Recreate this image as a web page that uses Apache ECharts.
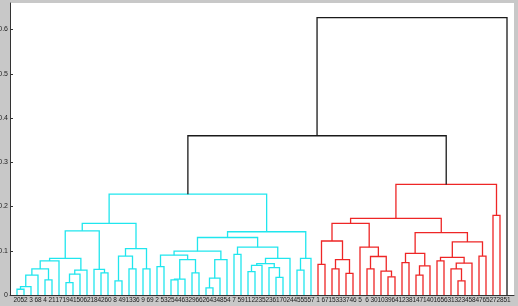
<!DOCTYPE html>
<html><head><meta charset="utf-8">
<script src="https://cdn.jsdelivr.net/npm/echarts@6/dist/echarts.min.js"></script>
<style>html,body{margin:0;padding:0;background:#c8c8c8}#c{width:518px;height:306px}</style>
</head><body><div id="c"></div>
<script>
// leaf labels in dendrogram order (positions 1..71)
const leafLabels = ['20','52','3','68','4','21','17','19','41','50','62','18','42','60','8','49','13','36','9','69',
 '2','53','25','44','63','29','66','26','43','48','54','7','59','11','22','35','23','61','70','24','45','55','57',
 '1','67','15','33','37','46','5','6','30','10','39','64','12','38','14','71','40','16','56','31','32','34','58','47','65','27','28','51'];
const yTicks = [0, 0.1, 0.2, 0.3, 0.4, 0.5, 0.6];
const colorThreshold = 0.3;
const groupColors = ['#20e6ee', '#ee2626'];
const aboveColor = '#1a1a1a';

// merges: [left, right, height]; numbers = leaf positions
const clusterA = [[[[[[1,2,0.013],3,0.019],4,0.045],[5,6,0.034],0.059],7,0.077],[[[8,9,0.028],10,0.047],11,0.056],0.083];
const clusterB = [12,[13,14,0.050],0.058];
const clusterC = [[[15,16,0.032],[17,18,0.059],0.088],[19,20,0.059],0.105];
const clusterE1 = [[[21,22,0.064],[[[23,24,0.034],25,0.036],[26,27,0.050],0.080],0.090],[[[28,29,0.016],30,0.038],31,0.080],0.099];
const clusterE2 = [[32,33,0.092],[[[[34,35,0.053],36,0.067],[37,[38,39,0.040],0.062],0.071],40,0.083],0.108];
const clusterD = [[41,42,0.056],43,0.083];
const clusterRa = [[[44,45,0.069],[[46,47,0.059],[48,49,0.049],0.080],0.122],[50,[[51,52,0.059],[53,[54,55,0.041],0.054],0.087],0.108],0.162];
const clusterRb = [[[56,57,0.073],[[58,59,0.045],60,0.066],0.094],[[[61,62,0.077],[[63,[64,65,0.032],0.059],66,0.072],0.085],[67,68,0.088],0.120],0.141];
const cyanTree = [[[clusterA, clusterB, 0.145], clusterC, 0.162], [[clusterE1, clusterE2, 0.130], clusterD, 0.143], 0.228];
const redTree = [[clusterRa, clusterRb, 0.173], [69,70,0.180], 0.250];
const fullTree = [[cyanTree, redTree, 0.360], 71, 0.627];

const linkData = [];
let nextGroup = 0;
function walk(node, colorIdx) {
  if (typeof node === 'number') return {x: node, y: 0};
  const h = node[2];
  let c = colorIdx;
  if (h < colorThreshold && c === -1) { c = nextGroup++; }
  const L = walk(node[0], c), R = walk(node[1], c);
  linkData.push([L.x, L.y, R.x, R.y, h, c]);
  return {x: (L.x + R.x) / 2, y: h};
}
walk(fullTree, -1);

const chart = echarts.init(document.getElementById('c'), null, {renderer: 'canvas'});
chart.setOption({
  backgroundColor: '#c8c8c8',
  animation: false,
  grid: {left: 10, right: 4, top: 3, bottom: 11, show: true, backgroundColor: '#ffffff', borderWidth: 0,
    containLabel: false, outerBoundsMode: 'none'},
  xAxis: {
    type: 'value', min: 0, max: leafLabels.length + 1, interval: 1,
    axisLine: {show: true, lineStyle: {color: '#333', width: 1}},
    axisTick: {show: false}, splitLine: {show: false},
    axisLabel: {fontSize: 6.5, fontFamily: 'Liberation Sans, Arial, sans-serif', color: '#222', margin: 2,
      showMinLabel: true, showMaxLabel: true,
      formatter: v => (Number.isInteger(v) && v >= 1 && v <= leafLabels.length) ? leafLabels[v - 1] : ''}
  },
  yAxis: {
    type: 'value', min: 0, max: 0.66, interval: 0.1,
    axisLine: {show: true, lineStyle: {color: '#333', width: 1}},
    axisTick: {show: true, inside: true, length: 3, lineStyle: {color: '#333'}},
    splitLine: {show: false},
    axisLabel: {fontSize: 7, fontFamily: 'Liberation Sans, Arial, sans-serif', color: '#222', margin: 2, showMaxLabel: false,
      formatter: v => { const r = Math.round(v * 10) / 10; return (Math.abs(v - r) < 1e-6 && yTicks.includes(r)) ? String(r) : ''; }}
  },
  series: [{
    type: 'custom',
    clip: false,
    encode: {x: [0, 2], y: [1, 3, 4]},
    data: linkData,
    renderItem: (params, api) => {
      const p1 = api.coord([api.value(0), api.value(1)]);
      const p2 = api.coord([api.value(0), api.value(4)]);
      const p3 = api.coord([api.value(2), api.value(4)]);
      const p4 = api.coord([api.value(2), api.value(3)]);
      const ci = api.value(5);
      return {type: 'polyline', shape: {points: [p1, p2, p3, p4]},
        style: {stroke: ci >= 0 ? groupColors[ci] : aboveColor, lineWidth: 1.3, fill: null}};
    }
  }]
});
</script></body></html>
